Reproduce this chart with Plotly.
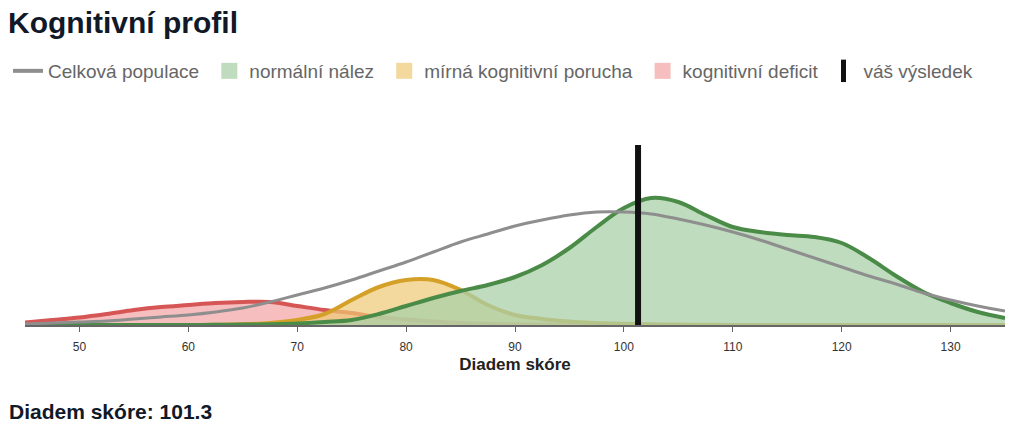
import plotly.graph_objects as go

# skore na ose x (krok 2.5)
skore = [45, 47.5, 50, 52.5, 55, 57.5, 60, 62.5, 65, 67.5, 70, 72.5, 75, 77.5,
         80, 82.5, 85, 87.5, 90, 92.5, 95, 97.5, 100, 102.5, 105, 107.5, 110,
         112.5, 115, 117.5, 120, 122.5, 125, 127.5, 130, 132.5, 135]

# relativni hustoty
populace = [1, 2, 3, 4, 6, 8, 10, 13, 17, 23, 30, 37, 45, 54,
            63, 73, 83, 91, 99, 105, 110, 113, 113, 111, 106, 100, 93,
            85, 76, 67, 58, 49, 41, 32, 25, 19, 14]
normalni = [0, 0, 0, 0, 0, 0, 0, 0.2, 0.4, 0.8, 1.5, 3, 5, 11,
            19, 27, 34, 40, 48, 60, 77, 98, 117, 127, 123, 110, 98,
            93, 90, 88, 82, 67, 49, 33, 22, 13, 7]
mirna = [0, 0, 0, 0, 0, 0, 0, 0.3, 0.8, 2, 5, 11, 25, 38,
         45, 45, 35, 20, 10, 6, 3.5, 2, 1.2, 0.7, 0.4, 0.2, 0.1,
         0, 0, 0, 0, 0, 0, 0, 0, 0, 0]
deficit = [2.5, 5, 7.5, 11, 15, 18, 20, 22, 23, 23, 19, 15, 12, 8,
           5.5, 3.5, 2, 1.2, 0.7, 0.4, 0.2, 0.1, 0.05, 0, 0, 0, 0,
           0, 0, 0, 0, 0, 0, 0, 0, 0, 0]

vysledek = 101.3
vysledek_vyska = 180

# nazev, hodnoty, barva cary, vypln
skupiny = [
    ("kognitivní deficit", deficit, "#d65656", "rgba(240,147,147,0.6)"),
    ("mírná kognitivní porucha", mirna, "#d4a028", "rgba(238,201,116,0.7)"),
    ("normální nález", normalni, "#4b8b48", "rgba(170,208,170,0.75)"),
]
NBSP = "\u00a0"

fig = go.Figure()

# legenda - poradi jako v originale
fig.add_trace(go.Scatter(x=[None], y=[None], mode="lines", name="Celková populace" + NBSP,
                         line=dict(color="#8e8e8e", width=4)))
for nazev, _, _, vypln in reversed(skupiny):
    fig.add_trace(go.Scatter(x=[None], y=[None], mode="markers",
                             name=nazev + (NBSP if nazev != "kognitivní deficit" else ""),
                             marker=dict(symbol="square", size=16, color=vypln)))
fig.add_trace(go.Scatter(x=[None], y=[None], mode="markers", name="váš výsledek",
                         marker=dict(symbol="line-ns", size=16,
                                     line=dict(color="#111111", width=6))))

# krivky
for nazev, hodnoty, barva, vypln in skupiny:
    fig.add_trace(go.Scatter(x=skore, y=hodnoty, mode="lines", fill="tozeroy",
                             fillcolor=vypln, line=dict(color=barva, width=4, shape="spline"),
                             showlegend=False, hoverinfo="skip"))

fig.add_trace(go.Scatter(x=skore, y=populace, mode="lines",
                         line=dict(color="#8e8e8e", width=3, shape="spline"),
                         showlegend=False, hoverinfo="skip"))

fig.add_trace(go.Scatter(x=[vysledek, vysledek], y=[0, vysledek_vyska], mode="lines",
                         line=dict(color="#111111", width=6),
                         showlegend=False, hoverinfo="skip"))

# stranka ma okraj 8 px, proto 1005x420
fig.update_layout(
    width=1005, height=420,
    margin=dict(l=17, r=8, t=102, b=103),
    paper_bgcolor="white", plot_bgcolor="white",
    font=dict(family="Liberation Sans, Arial, sans-serif", color="#333"),
    title=dict(text="<b>Kognitivní profil</b>", xref="container", x=0,
               yref="container", y=1 - 14 / 420, yanchor="middle",
               font=dict(size=30, color="#111827")),
    legend=dict(orientation="h", xref="container", x=0, xanchor="left",
                yref="container", y=1 - 63 / 420, yanchor="middle",
                font=dict(size=19, color="#666"), itemsizing="trace"),
    showlegend=True,
)

fig.update_xaxes(range=[45, 135], tick0=50, dtick=10, ticks="outside", ticklen=5,
                 tickcolor="#666", showline=True, linecolor="#666", linewidth=2,
                 showgrid=False, zeroline=False, tickfont=dict(size=12, color="#333"),
                 ticklabelstandoff=5,
                 title=dict(text="<b>Diadem skóre</b>", font=dict(size=17, color="#222"),
                            standoff=5))
fig.update_yaxes(range=[0, 215], visible=False, showgrid=False, zeroline=False)

fig.add_annotation(text="<b>Diadem skóre: %.1f</b>" % vysledek, xref="paper", yref="paper",
                   x=-(18 / 980), xanchor="left", y=-86 / 215, yanchor="middle",
                   showarrow=False, font=dict(size=21, color="#111827"))

fig.write_html("out.html")
